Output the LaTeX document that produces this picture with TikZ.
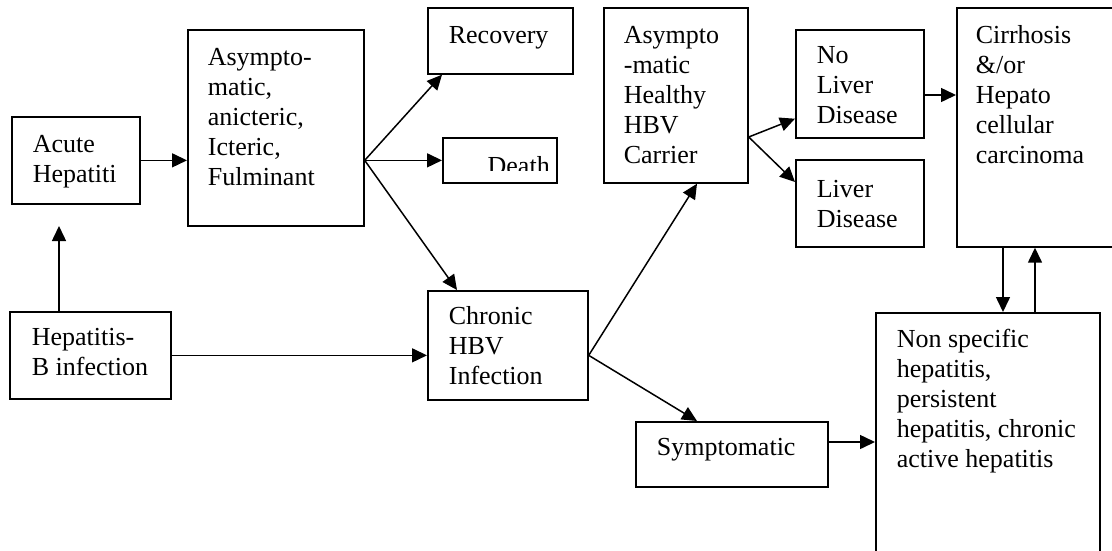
\documentclass[tikz,border=0pt]{standalone}
\usepackage{fontspec}
\setmainfont{Liberation Serif}
\usetikzlibrary{arrows.meta,calc}
\newcommand{\bt}[5]{\parbox[c][#2][t]{#1}{\vspace*{#3}\hspace*{#4}\begin{tabular}[t]{@{}l@{}}#5\end{tabular}}}
\begin{document}
\begin{tikzpicture}[x=1pt,y=-1pt,font=\fontsize{26}{30}\selectfont,
  box/.style={draw,line width=1.7pt,inner sep=0pt,anchor=north west},
  arr/.style={line width=1.5pt,-{Triangle[length=15pt,width=14pt]}}]
\clip (0,0) rectangle (1112,550);
\node[box] (acute) at (11,116) {\bt{128pt}{87pt}{15pt}{21pt}{Acute\\Hepatiti}};
\node[box] (asym) at (187,29) {\bt{176pt}{196pt}{15pt}{20pt}{Asympto-\\matic,\\anicteric,\\Icteric,\\Fulminant}};
\node[box] (recovery) at (427,7) {\bt{145pt}{66pt}{15pt}{21pt}{Recovery}};
\node[box,minimum width=114pt,minimum height=45pt,
  path picture={
    \clip ([yshift=12.5pt]path picture bounding box.south west) rectangle (path picture bounding box.north east);
    \node[anchor=base west,inner sep=0pt] at ([xshift=18pt,yshift=-37pt]path picture bounding box.north west) {Death};
  }] (death) at (442,137) {};
\node[box] (chronic) at (427,290) {\bt{160pt}{109pt}{13pt}{21pt}{Chronic\\HBV\\Infection}};
\node[box] (hepb) at (9,311) {\bt{161pt}{87pt}{13pt}{22pt}{Hepatitis-\\B infection}};
\node[box] (carrier) at (603,7) {\bt{144pt}{175pt}{15pt}{20pt}{Asympto\\-matic\\Healthy\\HBV\\Carrier}};
\node[box] (noliver) at (795,29) {\bt{128pt}{108pt}{13pt}{21pt}{No\\Liver\\Disease}};
\node[box] (liver) at (795,159) {\bt{128pt}{87pt}{17pt}{21pt}{Liver\\Disease}};
\node[box] (cirr) at (956,7) {\bt{185pt}{239pt}{15pt}{19pt}{Cirrhosis\\\&/or\\Hepato\\cellular\\carcinoma}};
\node[box] (sympt) at (635,421) {\bt{192pt}{65pt}{13pt}{21pt}{Symptomatic}};
\node[box] (nonspec) at (875,312) {\bt{224pt}{253pt}{14pt}{21pt}{Non specific\\hepatitis,\\persistent\\hepatitis, chronic\\active hepatitis}};
% connectors
\coordinate (a1) at (59,226);
\draw[arr] (hepb.north -| a1) -- (a1);
\draw[arr] (acute.east) -- (asym.west |- acute.east);
\coordinate (b1) at (asym.east |- acute.east);
\draw[arr] (b1) -- ($(recovery.south west)+(15,0)$);
\draw[arr] (b1) -- (death.west);
\draw[arr] (b1) -- ($(chronic.north west)+(30,0)$);
\draw[arr] (hepb.east) -- (chronic.west |- hepb.east);
\coordinate (b2) at (chronic.east |- hepb.east);
\draw[arr] (b2) -- ($(carrier.south west)+(94,0)$);
\draw[arr] (b2) -- ($(sympt.north west)+(62,0)$);
\coordinate (b3) at ($(carrier.north east)+(0,130)$);
\draw[arr] (b3) -- ($(noliver.south west)+(0,-20)$);
\draw[arr] (b3) -- ($(liver.north west)+(0,23)$);
\coordinate (c1) at ($(noliver.north east)+(0,66)$);
\draw[arr] (c1) -- (cirr.west |- c1);
\coordinate (d1) at ($(cirr.south west)+(47,0)$);
\draw[arr] (d1) -- (nonspec.north -| d1);
\coordinate (d2) at ($(cirr.south west)+(79,0)$);
\draw[arr] (nonspec.north -| d2) -- (d2);
\coordinate (e1) at ($(sympt.north east)+(0,21)$);
\draw[arr] (e1) -- (nonspec.west |- e1);
\end{tikzpicture}
\end{document}
